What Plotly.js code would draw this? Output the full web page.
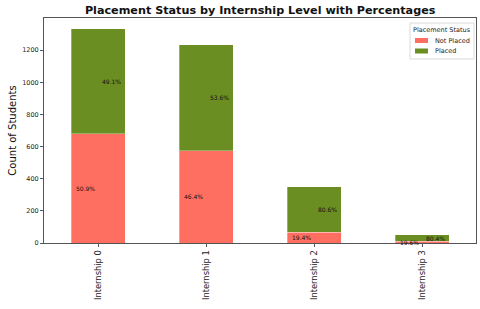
<!DOCTYPE html>
<html><head><meta charset="utf-8">
<script src="https://cdn.plot.ly/plotly-3.0.1.min.js"></script>
<style>html,body{margin:0;padding:0;background:#fff}#c{width:480px;height:309px}</style>
</head><body><div id="c"></div>
<script>
const categories = ["Internship 0", "Internship 1", "Internship 2", "Internship 3"];
const notPlaced = [679, 573, 68, 10];
const placed = [655, 662, 282, 41];
const tickVals = [0, 200, 400, 600, 800, 1000, 1200];
const seriesNames = ["Not Placed", "Placed"];
const seriesColors = ["#FF6F61", "#6B8E23"];
const legendTitle = "Placement Status";

const F = "DejaVu Sans, sans-serif";
const annotations = [];
categories.forEach((c, i) => {
  const tot = notPlaced[i] + placed[i];
  const pNP = (notPlaced[i] / tot * 100).toFixed(1) + "%";
  const pP = (placed[i] / tot * 100).toFixed(1) + "%";
  annotations.push({x: i, y: notPlaced[i] / 2, xref: "x", yref: "y", text: pNP, showarrow: false,
    xanchor: "right", xshift: -1, font: {family: F, size: 6, color: "#111"}});
  annotations.push({x: i, y: notPlaced[i] + placed[i] / 2, xref: "x", yref: "y", text: pP, showarrow: false,
    xanchor: "left", xshift: 2, font: {family: F, size: 6, color: "#111"}});
});

// custom compact legend (plot area: x 44..476 px, y 18..243 px)
const px = x => (x - 44) / 432;
const py = y => (243 - y) / 225;
const shapes = [
  {type: "rect", xref: "paper", yref: "paper", x0: px(410), x1: px(474), y0: py(59), y1: py(23),
   line: {color: "#d0d0d0", width: 0.8}, fillcolor: "rgba(255,255,255,0.85)", layer: "above"}
];
annotations.push({xref: "paper", yref: "paper", x: px(442), y: py(29.5), text: legendTitle, showarrow: false,
  xanchor: "center", yanchor: "middle", font: {family: F, size: 6.5, color: "#222"}});
seriesNames.forEach((n, k) => {
  const yc = 40.5 + k * 10.5;
  shapes.push({type: "rect", xref: "paper", yref: "paper", x0: px(415), x1: px(428), y0: py(yc + 2.5), y1: py(yc - 2.5),
    line: {width: 0}, fillcolor: seriesColors[k], layer: "above"});
  annotations.push({xref: "paper", yref: "paper", x: px(432.5), y: py(yc), text: n, showarrow: false,
    xanchor: "left", yanchor: "middle", font: {family: F, size: 6.5, color: "#222"}});
});

const traces = [
  {type: "bar", name: seriesNames[0], x: categories, y: notPlaced, width: 0.5,
   marker: {color: seriesColors[0], line: {color: "rgba(255,255,255,0.6)", width: 0.5}}, hoverinfo: "skip"},
  {type: "bar", name: seriesNames[1], x: categories, y: placed, width: 0.5,
   marker: {color: seriesColors[1], line: {color: "rgba(255,255,255,0.6)", width: 0.5}}, hoverinfo: "skip"}
];

const layout = {
  width: 480, height: 309,
  margin: {l: 44, r: 4, t: 18, b: 66},
  paper_bgcolor: "#fff", plot_bgcolor: "#fff",
  barmode: "stack",
  showlegend: false,
  title: {text: "<b>Placement Status by Internship Level with Percentages</b>", x: 0.542, xanchor: "center", y: 0.968, yanchor: "middle",
    font: {family: F, size: 11.2, color: "#111"}},
  xaxis: {type: "category", range: [-0.5, 3.5], showline: true, mirror: true, linecolor: "#555", linewidth: 1,
    ticks: "outside", ticklen: 3, tickcolor: "#555", tickangle: -90,
    tickfont: {family: F, size: 8.3, color: "#222"}, showgrid: false, zeroline: false},
  yaxis: {range: [0, 1400], tickvals: tickVals, showline: true, mirror: true, linecolor: "#555", linewidth: 1,
    ticks: "outside", ticklen: 3, tickcolor: "#555", tickfont: {family: F, size: 6.5, color: "#222"},
    showgrid: false, zeroline: false,
    title: {text: "Count of Students", font: {family: F, size: 10, color: "#111"}, standoff: 3}},
  shapes: shapes,
  annotations: annotations
};
Plotly.newPlot("c", traces, layout, {displayModeBar: false, staticPlot: true});
</script></body></html>
